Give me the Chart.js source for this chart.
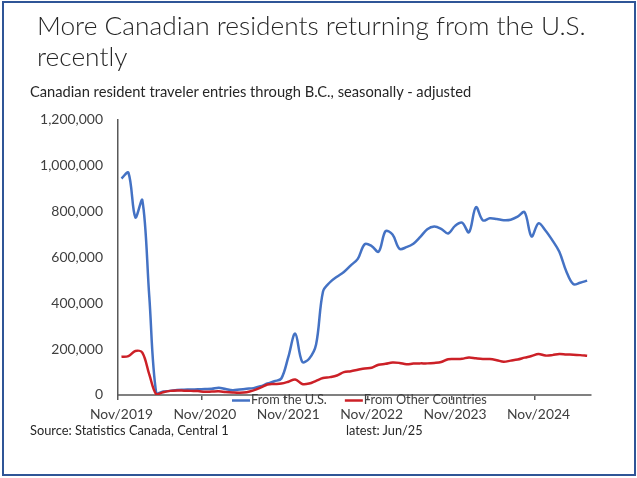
<!DOCTYPE html>
<html><head><meta charset="utf-8">
<script src="https://cdn.jsdelivr.net/npm/chart.js@4.4.1/dist/chart.umd.min.js"></script>
<style>
html,body{margin:0;padding:0;background:#fff;}
#wrap{position:relative;width:637px;height:478px;overflow:hidden;background:#fff;}
#frame{position:absolute;left:2px;top:1px;width:630px;height:471px;border:2px solid #2F5597;}
canvas{position:absolute;left:0;top:0;}
.txt{position:absolute;white-space:nowrap;font-family:Lato,sans-serif;color:#262626;}
</style></head>
<body><div id="wrap">
<canvas id="c" width="637" height="478"></canvas>
<div id="frame"></div>
<div class="txt" id="t1">More Canadian residents returning from the U.S.</div>
<div class="txt" id="t2">recently</div>
<div class="txt" id="sub">Canadian resident traveler entries through B.C., seasonally - adjusted</div>
<div class="txt" id="src">Source: Statistics Canada, Central 1</div>
<div class="txt" id="lat">latest: Jun/25</div>
</div>
<script>
// ---- data (monthly, Nov/2019 .. Jun/2025) ----
const monthNames = ['Jan','Feb','Mar','Apr','May','Jun','Jul','Aug','Sep','Oct','Nov','Dec'];
const startYear = 2019, startMonth = 10, monthCount = 68;
const categories = [];
for (let k = 0; k < monthCount; k++) {
  const m = (startMonth + k) % 12, y = startYear + Math.floor((startMonth + k) / 12);
  categories.push(monthNames[m] + '/' + y);
}
const xTickLabels = ['Nov/2019','Nov/2020','Nov/2021','Nov/2022','Nov/2023','Nov/2024'];
const seriesNames = ['From the U.S.','From Other Countries'];
const fromUS = [
  945000,970000,775000,850000,430000,8000,15000,18000,22000,23000,
  24000,25000,26000,27000,32000,26000,21000,24000,27000,30000,
  38000,50000,60000,72000,165000,268000,145000,158000,220000,452000,
  492000,516000,537000,566000,594000,658000,650000,625000,715000,700000,
  638000,645000,660000,690000,723000,735000,725000,705000,738000,752000,
  710000,820000,762000,771000,768000,763000,765000,778000,798000,692000,
  749000,718000,675000,625000,540000,484000,490000,499000
];
const fromOther = [
  167000,170000,192000,185000,90000,3000,12000,18000,20000,19000,
  18000,17000,14000,15000,16000,13000,11000,10000,12000,20000,
  32000,46000,48000,50000,58000,68000,48000,50000,62000,74000,
  78000,85000,100000,104000,110000,116000,119000,132000,136000,142000,
  140000,134000,137000,138000,138000,140000,144000,156000,157000,158000,
  164000,160000,157000,157000,152000,145000,150000,155000,163000,170000,
  179000,172000,174000,179000,177000,176000,174000,171000
];

// ---- font fitting helpers ----
const mctx = document.createElement('canvas').getContext('2d');
function fitSize(text, width, weight) {
  mctx.font = (weight || 400) + ' 100px Lato';
  return 100 * width / mctx.measureText(text).width;
}
function place(id, left, baseline, width, weight) {
  const el = document.getElementById(id);
  const fs = fitSize(el.textContent, width, weight);
  el.style.fontSize = fs + 'px';
  el.style.fontWeight = weight || 400;
  el.style.lineHeight = fs + 'px';
  el.style.left = left + 'px';
  el.style.top = (baseline - 0.887 * fs) + 'px';
  return fs;
}
const titleFs = place('t1', 37, 35, 549, 300);
(function(){
  const el = document.getElementById('t2');
  el.style.fontSize = titleFs + 'px'; el.style.fontWeight = 300;
  el.style.lineHeight = titleFs + 'px'; el.style.left = '37px';
  el.style.top = (66 - 0.887 * titleFs) + 'px';
})();
place('sub', 30, 98, 442, 400);
place('src', 30, 435.5, 199, 400);
place('lat', 346, 435.5, 77, 400);

const xFs = fitSize('Nov/2019', 63, 400);
const yFs = fitSize('1,200,000', 63, 400);
const legFs = fitSize('From Other Countries', 123, 400);

const textColor = '#404040';

const legendPlugin = {
  id: 'xlLegend',
  afterDraw(chart) {
    const ctx = chart.ctx;
    ctx.save();
    ctx.font = legFs + 'px Lato';
    ctx.fillStyle = textColor;
    ctx.textBaseline = 'alphabetic';
    let x = 232;
    chart.data.datasets.forEach(ds => {
      ctx.strokeStyle = ds.borderColor;
      ctx.lineWidth = 2.5;
      ctx.beginPath(); ctx.moveTo(x, 400.5); ctx.lineTo(x + 18, 400.5); ctx.stroke();
      ctx.fillText(ds.label, x + 19, 404);
      x += 19 + ctx.measureText(ds.label).width + 18;
    });
    ctx.restore();
  }
};

new Chart(document.getElementById('c'), {
  type: 'line',
  data: {
    labels: categories,
    datasets: [
      { label: seriesNames[0], data: fromUS, borderColor: '#4472C4', backgroundColor: '#4472C4',
        borderWidth: 2.5, pointRadius: 0, tension: 0.35, fill: false, order: 1 },
      { label: seriesNames[1], data: fromOther, borderColor: '#CC2027', backgroundColor: '#CC2027',
        borderWidth: 2.5, pointRadius: 0, tension: 0.35, fill: false, order: 0 }
    ]
  },
  options: {
    responsive: false,
    animation: false,
    events: [],
    layout: { padding: { left: 0, top: 120, right: 46.4, bottom: 43 } },
    plugins: { legend: { display: false }, title: { display: false }, tooltip: { enabled: false } },
    scales: {
      x: {
        type: 'category',
        offset: true,
        afterFit(s) { s.height = 40; },
        border: { display: true, color: '#808080', width: 2 },
        grid: {
          offset: true, drawOnChartArea: false, drawTicks: true, tickLength: 5, lineWidth: 1.5,
          color: c => (c.index % 12 === 0 ? '#595959' : 'rgba(0,0,0,0)')
        },
        ticks: {
          autoSkip: false, maxRotation: 0, minRotation: 0, padding: 6,
          color: textColor, font: { family: 'Lato', size: xFs },
          callback: (v, i) => (xTickLabels.includes(categories[i]) ? categories[i] : '')
        }
      },
      y: {
        min: 0, max: 1200000,
        afterFit(s) { s.width = 118; },
        border: { display: true, color: '#595959', width: 1.5 },
        grid: { display: false, drawTicks: false },
        ticks: {
          stepSize: 200000, padding: 15, color: textColor,
          font: { family: 'Lato', size: yFs },
          callback: v => v.toLocaleString('en-US')
        }
      }
    }
  },
  plugins: [legendPlugin]
});
</script>
</body></html>
